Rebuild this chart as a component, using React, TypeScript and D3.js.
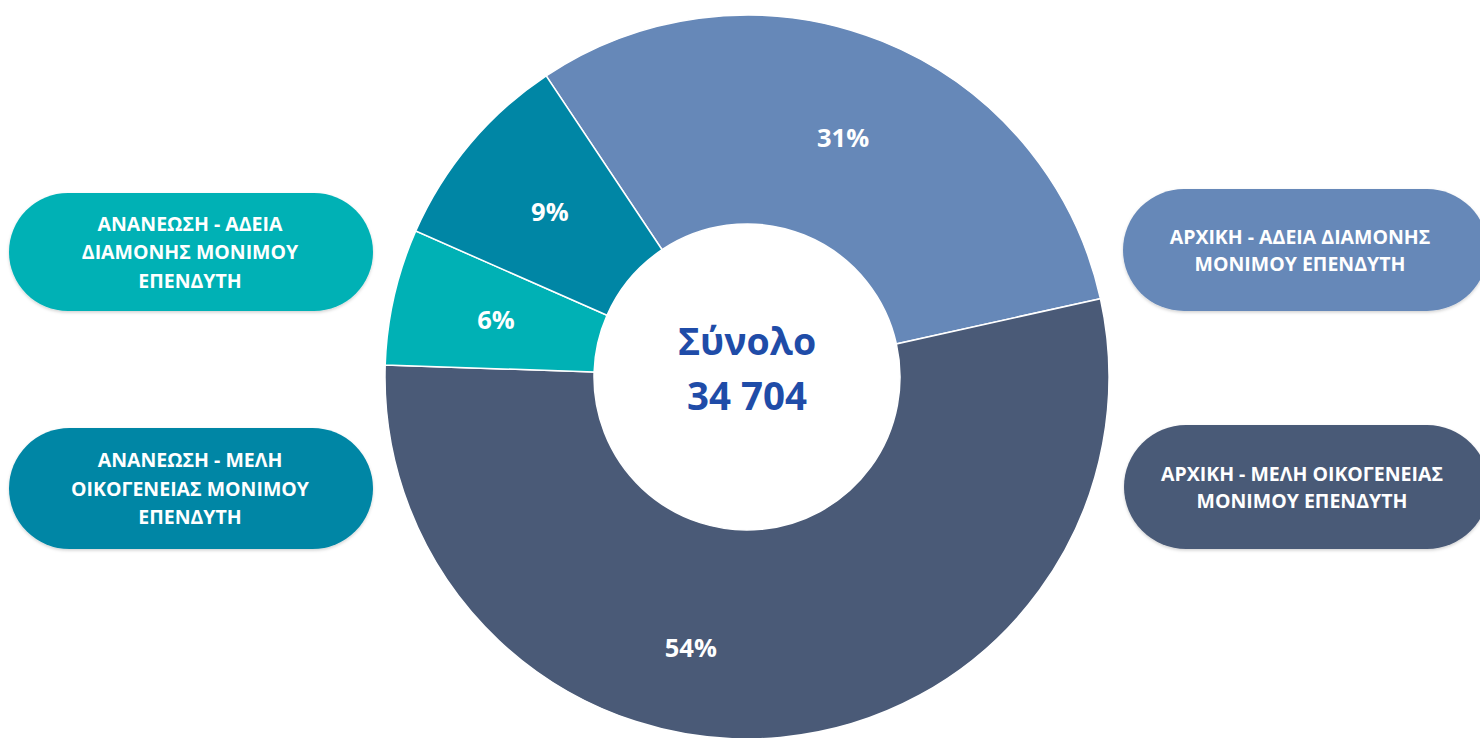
import React from "react";
import * as d3 from "d3";

// ---- data ----
const categories = [
  "ΑΡΧΙΚΗ - ΑΔΕΙΑ ΔΙΑΜΟΝΗΣ ΜΟΝΙΜΟΥ ΕΠΕΝΔΥΤΗ",
  "ΑΡΧΙΚΗ - ΜΕΛΗ ΟΙΚΟΓΕΝΕΙΑΣ ΜΟΝΙΜΟΥ ΕΠΕΝΔΥΤΗ",
  "ΑΝΑΝΕΩΣΗ - ΑΔΕΙΑ ΔΙΑΜΟΝΗΣ ΜΟΝΙΜΟΥ ΕΠΕΝΔΥΤΗ",
  "ΑΝΑΝΕΩΣΗ - ΜΕΛΗ ΟΙΚΟΓΕΝΕΙΑΣ ΜΟΝΙΜΟΥ ΕΠΕΝΔΥΤΗ",
];
const values = [10720, 18740, 2110, 3134];
const legendLines = [
  ["ΑΡΧΙΚΗ - ΑΔΕΙΑ ΔΙΑΜΟΝΗΣ", "ΜΟΝΙΜΟΥ ΕΠΕΝΔΥΤΗ"],
  ["ΑΡΧΙΚΗ - ΜΕΛΗ ΟΙΚΟΓΕΝΕΙΑΣ", "ΜΟΝΙΜΟΥ ΕΠΕΝΔΥΤΗ"],
  ["ΑΝΑΝΕΩΣΗ - ΑΔΕΙΑ", "ΔΙΑΜΟΝΗΣ ΜΟΝΙΜΟΥ", "ΕΠΕΝΔΥΤΗ"],
  ["ΑΝΑΝΕΩΣΗ - ΜΕΛΗ", "ΟΙΚΟΓΕΝΕΙΑΣ ΜΟΝΙΜΟΥ", "ΕΠΕΝΔΥΤΗ"],
];
const totalLabel = "Σύνολο";
const colors = ["#6688B8", "#4A5A77", "#00B1B5", "#0086A5"];

// ---- layout ----
const W = 1480;
const H = 738;
const CX = 747;
const CY = 377;
const R_OUT = 362;
const R_IN = 153;
const START = (-33.7 * Math.PI) / 180;
const FONT = "'Open Sans', 'Noto Sans', sans-serif";

// legend pill boxes, same order as categories
const pills = [
  { x: 1123, y: 189, w: 365, h: 122, tx: 1300 },
  { x: 1124, y: 425, w: 365, h: 124, tx: 1302 },
  { x: 9, y: 193, w: 364, h: 118, tx: 190 },
  { x: 9, y: 428, w: 364, h: 121, tx: 190 },
];
// the big slice's label sits off-centroid in the reference
const labelOverride: Record<number, { angleDeg: number; r: number }> = {
  1: { angleDeg: 191.7, r: 277 },
};

const fmt = d3.formatLocale({
  decimal: ",",
  thousands: " ",
  grouping: [3],
  currency: ["", "€"],
}).format(",d");

export default function App() {
  const total = d3.sum(values);
  const pie = d3
    .pie<number>()
    .sort(null)
    .value((d) => d)
    .startAngle(START)
    .endAngle(START + 2 * Math.PI);
  const arcs = pie(values);
  const arc = d3.arc<d3.PieArcDatum<number>>().innerRadius(R_IN).outerRadius(R_OUT);

  return (
    <svg
      width={W}
      height={H}
      style={{ position: "absolute", left: 0, top: 0, display: "block" }}
      fontFamily={FONT}
    >
      <defs>
        <filter id="sh" x="-10%" y="-10%" width="120%" height="130%">
          <feDropShadow dx="0" dy="1.5" stdDeviation="1.5" floodColor="#000" floodOpacity="0.18" />
        </filter>
      </defs>
      <rect width={W} height={H} fill="#fff" />
      <g transform={`translate(${CX},${CY})`}>
        {arcs.map((a, i) => (
          <path key={i} d={arc(a) || ""} fill={colors[i]} stroke="#fff" strokeWidth={1.5} />
        ))}
        {arcs.map((a, i) => {
          let [x, y] = arc.centroid(a);
          const o = labelOverride[i];
          if (o) {
            const t = (o.angleDeg * Math.PI) / 180;
            x = o.r * Math.sin(t);
            y = -o.r * Math.cos(t);
          }
          return (
            <text
              key={i}
              x={x}
              y={y}
              dy="0.36em"
              textAnchor="middle"
              fill="#fff"
              fontWeight={700}
              fontSize={25.5}
            >
              {Math.round((a.data / total) * 100)}%
            </text>
          );
        })}
        <text x={0} y={-36} dy="0.36em" textAnchor="middle" fill="#1F4CA8" fontWeight={700} fontSize={37.5}>
          {totalLabel}
        </text>
        <text x={0} y={19} dy="0.36em" textAnchor="middle" fill="#1F4CA8" fontWeight={700} fontSize={38.5}>
          {fmt(total)}
        </text>
      </g>
      {pills.map((p, i) => {
        const lines = legendLines[i];
        const lh = lines.length === 2 ? 27 : 28.5;
        const cy = p.y + p.h / 2;
        const y0 = cy - ((lines.length - 1) * lh) / 2;
        return (
          <g key={i} aria-label={categories[i]}>
            <rect x={p.x} y={p.y} width={p.w} height={p.h} rx={p.h / 2} ry={p.h / 2} fill={colors[i]} filter="url(#sh)" />
            {lines.map((l, j) => (
              <text
                key={j}
                x={p.tx}
                y={y0 + j * lh}
                dy="0.36em"
                textAnchor="middle"
                fill="#fff"
                fontWeight={700}
                fontSize={19.5}
              >
                {l}
              </text>
            ))}
          </g>
        );
      })}
    </svg>
  );
}
